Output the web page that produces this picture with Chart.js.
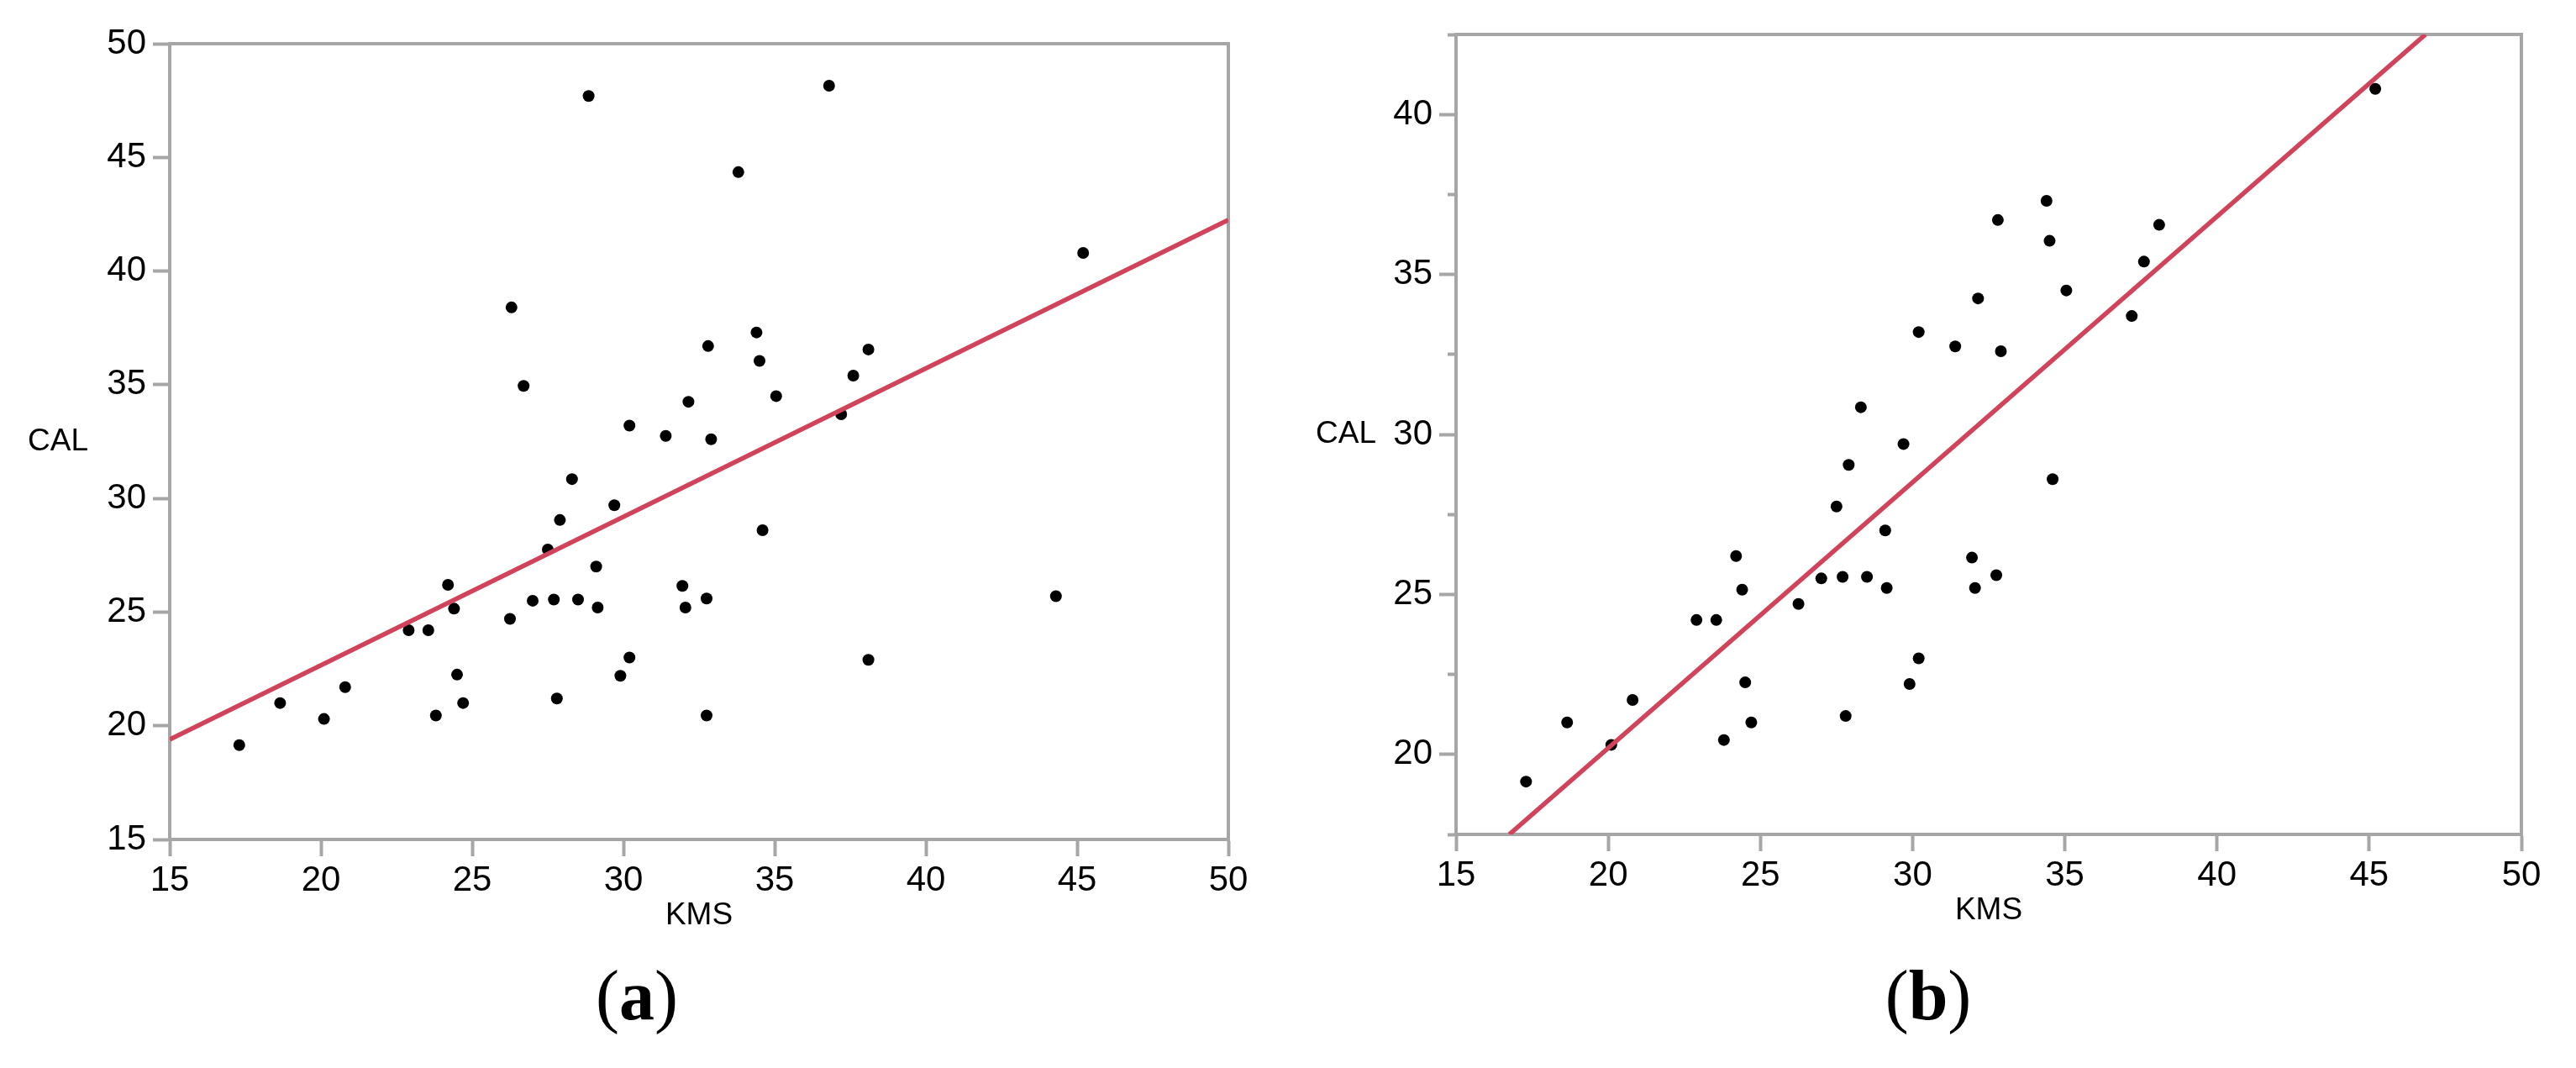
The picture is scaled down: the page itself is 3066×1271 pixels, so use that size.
<!DOCTYPE html>
<html>
<head>
<meta charset="utf-8">
<script src="https://cdn.jsdelivr.net/npm/chart.js@4.4.1/dist/chart.umd.min.js"></script>
<style>
  html, body { margin: 0; padding: 0; background: #fff; }
  #page { position: relative; width: 3066px; height: 1271px; overflow: hidden; }
  canvas { position: absolute; top: 0; }
  .cap { position: absolute; top: 1143px; width: 400px; text-align: center;
         font: 84px/84px "Liberation Serif", "Times New Roman", serif; color: #000; }
</style>
</head>
<body>
<div id="page">
  <canvas id="chartA" width="1533" height="1140" style="left:0"></canvas>
  <canvas id="chartB" width="1533" height="1140" style="left:1533px"></canvas>
  <div class="cap" style="left:558px">(<b>a</b>)</div>
  <div class="cap" style="left:2095px">(<b>b</b>)</div>
</div>
<script>
// (a) all observations
const kmsA = [17.3, 18.65, 20.1, 20.8, 22.9, 23.55, 23.8, 24.2, 24.4, 24.5, 24.7, 26.25,
  26.3, 26.7, 27.0, 27.5, 27.7, 27.8, 27.9, 28.3, 28.5, 28.85, 29.1, 29.15, 29.7, 29.9,
  30.2, 30.2, 31.4, 31.95, 32.05, 32.15, 32.75, 32.75, 32.8, 32.9, 33.8, 34.4, 34.5, 34.6,
  35.05, 36.8, 37.2, 37.6, 38.1, 38.1, 44.3, 45.2];
const calA = [19.15, 21.0, 20.3, 21.7, 24.2, 24.2, 20.45, 26.2, 25.15, 22.25, 21.0, 24.7,
  38.4, 34.95, 25.5, 27.75, 25.55, 21.2, 29.05, 30.85, 25.55, 47.7, 27.0, 25.2, 29.7, 22.2,
  33.2, 23.0, 32.75, 26.15, 25.2, 34.25, 25.6, 20.45, 36.7, 32.6, 44.35, 37.3, 36.05, 28.6,
  34.5, 48.15, 33.7, 35.4, 36.55, 22.9, 25.7, 40.8];

// (b) outliers removed
const kmsB = [17.3, 18.65, 20.1, 20.8, 22.9, 23.55, 23.8, 24.2, 24.4, 24.5, 24.7, 26.25,
  27.0, 27.5, 27.7, 27.8, 27.9, 28.3, 28.5, 29.1, 29.15, 29.7, 29.9, 30.2, 30.2, 31.4,
  31.95, 32.05, 32.15, 32.75, 32.8, 32.9, 34.4, 34.5, 34.6, 35.05, 37.2, 37.6, 38.1, 45.2];
const calB = [19.15, 21.0, 20.3, 21.7, 24.2, 24.2, 20.45, 26.2, 25.15, 22.25, 21.0, 24.7,
  25.5, 27.75, 25.55, 21.2, 29.05, 30.85, 25.55, 27.0, 25.2, 29.7, 22.2, 33.2, 23.0, 32.75,
  26.15, 25.2, 34.25, 25.6, 36.7, 32.6, 37.3, 36.05, 28.6, 34.5, 33.7, 35.4, 36.55, 40.8];

// fitted lines (end points where they leave the plot)
const fitAX = [15, 50];
const fitAY = [19.4, 42.25];
const fitBX = [16.75, 46.85];
const fitBY = [17.5, 42.5];

const xRange = [15, 50];
const yRangeA = [15, 50];
const yRangeB = [17.5, 42.5];

const AXIS = '#a6a6a6';
const RED = '#d0435a';
const FONT = '"Liberation Sans", Arial, sans-serif';

Chart.defaults.font.family = FONT;
Chart.defaults.color = '#000';

const toPoints = (xs, ys) => xs.map((x, i) => ({ x: x, y: ys[i] }));

// box around the plot + horizontal "CAL" label
const framePlugin = {
  id: 'frame',
  beforeDatasetsDraw(chart, args, opts) {
    const { ctx, chartArea: a } = chart;
    ctx.save();
    ctx.strokeStyle = AXIS;
    ctx.lineWidth = 4;
    ctx.lineJoin = 'miter';
    ctx.beginPath();
    ctx.moveTo(a.left - 2, a.top);
    ctx.lineTo(a.right, a.top);
    ctx.lineTo(a.right, a.bottom + 2);
    ctx.stroke();
    ctx.fillStyle = '#000';
    ctx.font = '37px ' + FONT;
    ctx.textAlign = 'left';
    ctx.textBaseline = 'middle';
    ctx.fillText(opts.yTitle, 33, (a.top + a.bottom) / 2);
    ctx.restore();
  }
};

function makeChart(id, xs, ys, lx, ly, yRange, yStep, pad, yWidth) {
  const isMinor = c => c.tick && Math.abs(c.tick.value % 5) > 1e-6;
  return new Chart(document.getElementById(id), {
    type: 'scatter',
    data: {
      datasets: [
        {
          type: 'line',
          data: toPoints(lx, ly),
          borderColor: RED,
          borderWidth: 5.5,
          pointRadius: 0,
          order: 0
        },
        {
          data: toPoints(xs, ys),
          backgroundColor: '#000',
          borderColor: '#000',
          borderWidth: 0,
          pointRadius: 7,
          order: 1
        }
      ]
    },
    options: {
      responsive: false,
      animation: false,
      layout: { padding: pad },
      plugins: {
        legend: { display: false },
        tooltip: { enabled: false },
        frame: { yTitle: 'CAL' }
      },
      scales: {
        x: {
          type: 'linear',
          min: xRange[0],
          max: xRange[1],
          ticks: { stepSize: 5, font: { size: 42 }, padding: 4, maxRotation: 0, autoSkip: false },
          grid: { drawOnChartArea: false, drawTicks: true, tickLength: 20, tickWidth: 4, tickColor: AXIS },
          border: { display: true, color: AXIS, width: 4 },
          title: { display: true, text: 'KMS', font: { size: 37 }, padding: 0 },
          afterFit: s => { s.height = 113; }
        },
        y: {
          type: 'linear',
          min: yRange[0],
          max: yRange[1],
          ticks: {
            stepSize: yStep,
            font: { size: 42 },
            padding: 8,
            autoSkip: false,
            callback: v => (Math.abs(v % 5) < 1e-6 ? v : '')
          },
          grid: {
            drawOnChartArea: false, drawTicks: true, tickLength: 20, tickWidth: 4, tickColor: AXIS,
            tickBorderDash: c => (isMinor(c) ? [10, 10] : []),
            tickBorderDashOffset: c => (isMinor(c) ? 10 : 0)
          },
          border: { display: true, color: AXIS, width: 4 },
          afterFit: s => { s.width = yWidth; }
        }
      }
    },
    plugins: [framePlugin]
  });
}

makeChart('chartA', kmsA, calA, fitAX, fitAY, yRangeA, 5,
  { left: 0, top: 52, right: 71, bottom: 28 }, 202);
makeChart('chartB', kmsB, calB, fitBX, fitBY, yRangeB, 2.5,
  { left: 0, top: 41, right: 65, bottom: 34 }, 200);
</script>
</body>
</html>
